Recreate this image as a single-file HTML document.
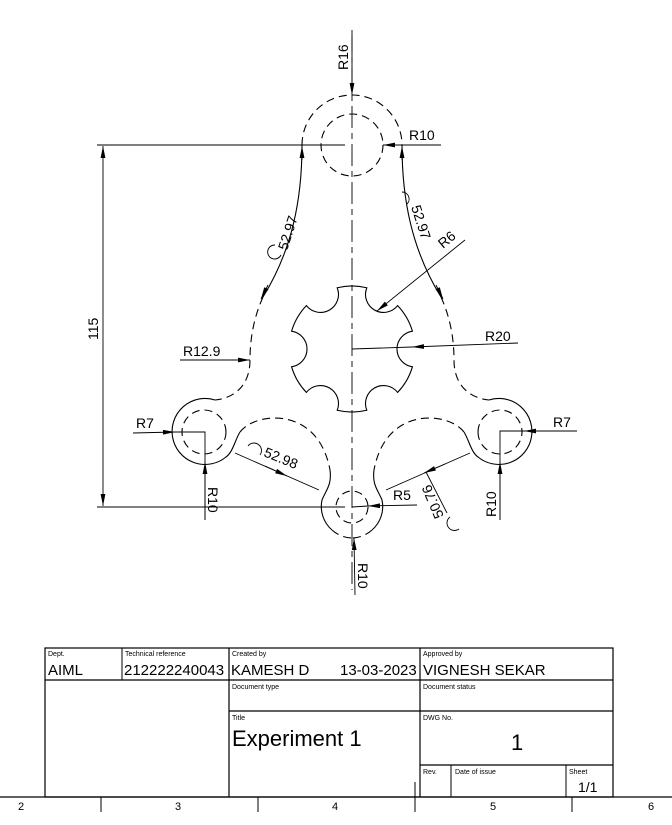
<!DOCTYPE html>
<html><head><meta charset="utf-8"><style>
html,body{margin:0;padding:0;background:#fff}
svg{display:block}
text{font-family:"Liberation Sans",Arial,sans-serif;fill:#000}
</style></head><body>
<svg width="672" height="825" viewBox="0 0 672 825" xmlns="http://www.w3.org/2000/svg">
<defs>
<marker id="ar" viewBox="0 0 10 4" refX="10" refY="2" markerWidth="12" markerHeight="5" markerUnits="userSpaceOnUse" orient="auto"><path d="M0,0 L10,2 L0,4 z" fill="#000"/></marker>
</defs>
<g fill="none" stroke="#000" stroke-width="1.1">
  <line x1="352" y1="30" x2="352" y2="590" stroke-dasharray="22 5 6 5" stroke-width="0.9"/>
  <path d="M302,145 A50,50 0 0 1 402,145" stroke-dasharray="8 5"/>
  <circle cx="352" cy="145" r="31" stroke-dasharray="8 5"/>
  <g>
    <path d="M302,145 C302,200 292,250 263,297"/>
    <path d="M263,297 C255,315 250,335 250,360 C250,385 235,398 215,400" stroke-dasharray="8 5"/>
    <path d="M215,400 A33,33 0 1 0 226,457 C233,452 235,440 240,432"/>
    <path d="M240,432 C255,412 318,405 330,470" stroke-dasharray="8 5"/>
    <path d="M330,470 C332,485 326,490 322,500 A31,31 0 0 0 332,530"/>
    <path d="M332,530 A31,31 0 0 0 352,538" stroke-dasharray="8 5"/>
    <circle cx="204" cy="432" r="22" stroke-dasharray="8 5"/>
  </g>
  <g transform="translate(704,0) scale(-1,1)">
    <path d="M302,145 C302,200 292,250 263,297"/>
    <path d="M263,297 C255,315 250,335 250,360 C250,385 235,398 215,400" stroke-dasharray="8 5"/>
    <path d="M215,400 A33,33 0 1 0 226,457 C233,452 235,440 240,432"/>
    <path d="M240,432 C255,412 318,405 330,470" stroke-dasharray="8 5"/>
    <path d="M330,470 C332,485 326,490 322,500 A31,31 0 0 0 332,530"/>
    <path d="M332,530 A31,31 0 0 0 352,538" stroke-dasharray="8 5"/>
    <circle cx="204" cy="432" r="22" stroke-dasharray="8 5"/>
  </g>
  <circle cx="352" cy="507" r="16" stroke-dasharray="8 5"/>
  <path id="gear" d=""/>
</g>
<g fill="none" stroke="#000" stroke-width="0.9">
  <line x1="97" y1="145" x2="345" y2="145"/>
  <line x1="97" y1="507" x2="345" y2="507"/>
  <line x1="103" y1="326" x2="103" y2="146" marker-end="url(#ar)"/>
  <line x1="103" y1="326" x2="103" y2="506" marker-end="url(#ar)"/>
  <line x1="352" y1="37" x2="352" y2="95" marker-end="url(#ar)"/>
  <line x1="441" y1="145" x2="383" y2="145" marker-end="url(#ar)"/>
  <line x1="302" y1="160" x2="302" y2="146" marker-end="url(#ar)"/>
  <line x1="402" y1="160" x2="402" y2="146" marker-end="url(#ar)"/>
  <line x1="268" y1="285" x2="261" y2="299" marker-end="url(#ar)"/>
  <line x1="436" y1="285" x2="443" y2="299" marker-end="url(#ar)"/>
  <line x1="465" y1="240" x2="377" y2="311" marker-end="url(#ar)"/>
  <line x1="518" y1="343" x2="412" y2="347" marker-end="url(#ar)"/>
  <line x1="412" y1="347" x2="352" y2="349"/>
  <line x1="180" y1="360" x2="250" y2="360" marker-end="url(#ar)"/>
  <line x1="133" y1="433" x2="175" y2="432" marker-end="url(#ar)"/>
  <polyline points="175,432 205,432 205,520"/>
  <line x1="205" y1="520" x2="205" y2="462" marker-end="url(#ar)"/>
  <line x1="577" y1="431" x2="524" y2="431" marker-end="url(#ar)"/>
  <polyline points="524,431 500,431 500,520"/>
  <line x1="500" y1="520" x2="500" y2="462" marker-end="url(#ar)"/>
  <line x1="417" y1="505" x2="368" y2="506" marker-end="url(#ar)"/>
  <line x1="368" y1="506" x2="352" y2="507"/>
  <line x1="355" y1="595" x2="354" y2="538" marker-end="url(#ar)"/>
  <line x1="235" y1="453" x2="319" y2="490"/>
  <line x1="265" y1="466" x2="287" y2="476" marker-end="url(#ar)"/>
  <line x1="386" y1="490" x2="470" y2="453"/>
  <line x1="445" y1="464" x2="424" y2="473" marker-end="url(#ar)"/>
  <line x1="426" y1="472" x2="447" y2="513"/>
  <path d="M275,245 a7,7 0 1 0 6,10"/>
  <path d="M402,192 a7,7 0 0 1 5,12"/>
  <path d="M248,446 a7,7 0 0 1 12,9"/>
  <path d="M450,517 a7,7 0 0 0 9,12"/>
</g>
<g font-size="14">
  <text transform="translate(348,70) rotate(-90)">R16</text>
  <text x="409" y="140">R10</text>
  <text transform="translate(98,340) rotate(-90)">115</text>
  <text transform="translate(287,251) rotate(-72)">52.97</text>
  <text transform="translate(411,207) rotate(72)">52.97</text>
  <text transform="translate(443,249) rotate(-40)">R6</text>
  <text x="485" y="341">R20</text>
  <text x="183" y="356">R12.9</text>
  <text x="136" y="428">R7</text>
  <text transform="translate(208,487) rotate(90)">R10</text>
  <text x="553" y="427">R7</text>
  <text transform="translate(496,517) rotate(-90)">R10</text>
  <text transform="translate(263,456) rotate(22)">52.98</text>
  <text x="393" y="500">R5</text>
  <text transform="translate(444,516) rotate(-113)">50.76</text>
  <text transform="translate(358,563) rotate(90)">R10</text>
</g>
<g fill="none" stroke="#000">
  <rect x="45" y="648" width="568" height="149" stroke-width="1.2"/>
  <line x1="45" y1="680" x2="613" y2="680" stroke-width="1.2"/>
  <line x1="229" y1="711" x2="613" y2="711" stroke-width="1.2"/>
  <line x1="420" y1="765" x2="613" y2="765" stroke-width="1.2"/>
  <line x1="122" y1="648" x2="122" y2="680"/>
  <line x1="229" y1="648" x2="229" y2="797" stroke-width="1.2"/>
  <line x1="420" y1="648" x2="420" y2="797" stroke-width="1.2"/>
  <line x1="451" y1="765" x2="451" y2="797"/>
  <line x1="566" y1="765" x2="566" y2="797"/>
  <line x1="0" y1="797" x2="672" y2="797" stroke-width="1.2"/>
  <line x1="101" y1="797" x2="101" y2="812"/>
  <line x1="258" y1="797" x2="258" y2="812"/>
  <line x1="415" y1="782" x2="415" y2="812"/>
  <line x1="572" y1="797" x2="572" y2="812"/>
</g>
<g>
  <text x="48" y="656" font-size="7">Dept.</text>
  <text x="125" y="656" font-size="7">Technical reference</text>
  <text x="232" y="656" font-size="7">Created by</text>
  <text x="423" y="656" font-size="7">Approved by</text>
  <text x="48" y="675" font-size="15">AIML</text>
  <text x="124" y="675" font-size="15">212222240043</text>
  <text x="231" y="675" font-size="15">KAMESH D</text>
  <text x="340" y="675" font-size="15">13-03-2023</text>
  <text x="423" y="675" font-size="15">VIGNESH SEKAR</text>
  <text x="232" y="689" font-size="7">Document type</text>
  <text x="423" y="689" font-size="7">Document status</text>
  <text x="232" y="720" font-size="7">Title</text>
  <text x="423" y="720" font-size="7">DWG No.</text>
  <text x="232" y="746" font-size="22">Experiment 1</text>
  <text x="511" y="750" font-size="22">1</text>
  <text x="423" y="774" font-size="7">Rev.</text>
  <text x="455" y="774" font-size="7">Date of issue</text>
  <text x="569" y="774" font-size="7">Sheet</text>
  <text x="578" y="792" font-size="14">1/1</text>
  <text x="18" y="810" font-size="11">2</text>
  <text x="175" y="810" font-size="11">3</text>
  <text x="332" y="810" font-size="11">4</text>
  <text x="490" y="810" font-size="11">5</text>
  <text x="648" y="810" font-size="11">6</text>
</g>
</svg>
<script>
const gearCenter=[352,349];const gearR=63;const notchR=18;const notchCount=6;
(function(){
  const cx=gearCenter[0],cy=gearCenter[1];
  const d=2*Math.asin(notchR/(2*gearR));
  let p='';
  for(let k=0;k<notchCount;k++){
    const t=k*2*Math.PI/notchCount;
    const a1=t-d, a2=t+d, a3=t+2*Math.PI/notchCount-d;
    const P=a=>[cx+gearR*Math.cos(a),cy-gearR*Math.sin(a)];
    const s=P(a1),e=P(a2),n=P(a3);
    if(k===0)p+='M'+s[0].toFixed(2)+','+s[1].toFixed(2);
    p+=' A'+notchR+','+notchR+' 0 0 1 '+e[0].toFixed(2)+','+e[1].toFixed(2);
    p+=' A'+gearR+','+gearR+' 0 0 0 '+n[0].toFixed(2)+','+n[1].toFixed(2);
  }
  document.getElementById('gear').setAttribute('d',p+'Z');
})();
</script>
</body></html>
